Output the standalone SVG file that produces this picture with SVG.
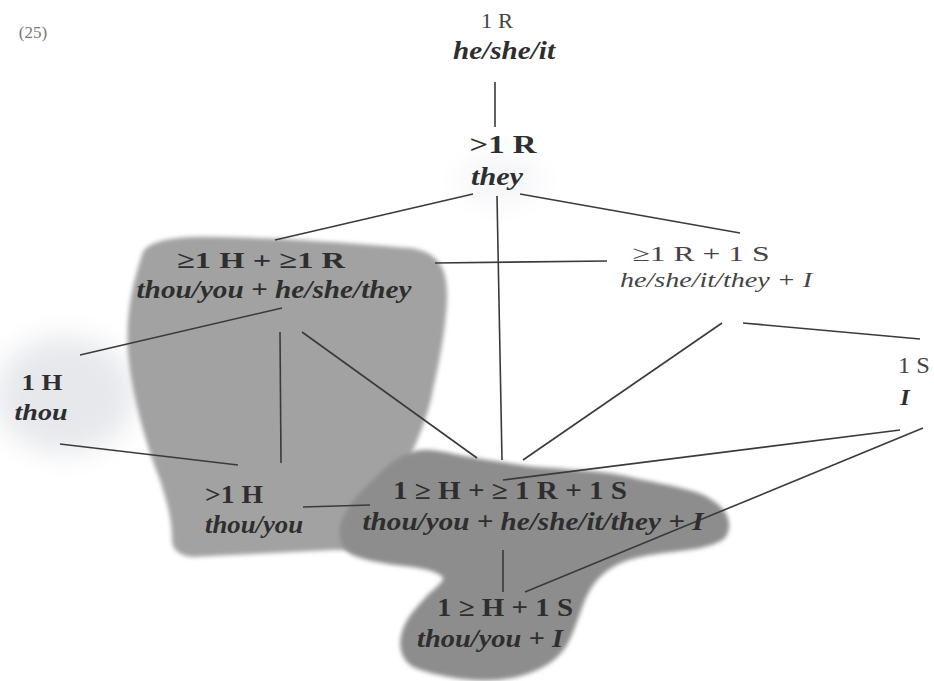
<svg xmlns="http://www.w3.org/2000/svg" width="934" height="681" viewBox="0 0 934 681">
<defs>
<filter id="soft" x="-20%" y="-20%" width="140%" height="140%"><feGaussianBlur stdDeviation="2"/></filter>
<filter id="halo" x="-50%" y="-50%" width="200%" height="200%"><feGaussianBlur stdDeviation="14"/></filter>
<style>
.t{font-family:"Liberation Serif","Times New Roman",serif;fill:#2e2e2e;text-anchor:middle}
.b{font-weight:bold}
.i{font-style:italic;font-weight:bold}
.n{font-weight:normal;fill:#444}
.c line{stroke:#3a3a3a;stroke-width:1.6}
</style>
</defs>
<rect width="934" height="681" fill="#ffffff"/>
<!-- backgrounds -->
<ellipse cx="65" cy="395" rx="70" ry="58" fill="#e6e8ec" filter="url(#halo)"/>
<ellipse cx="500" cy="180" rx="40" ry="22" fill="#f3f4f7" filter="url(#halo)"/>
<path id="blobLeft" d="M143,252 C152,238 185,236 220,237 C290,238 360,244 410,248 C440,252 448,270 447,300 C445,340 436,375 432,395 C424,430 412,450 405,470 L400,548 C380,552 360,550 333,550 L193,557 C178,556 172,548 172,540 C172,520 168,505 160,480 C150,455 132,400 128,353 C126,320 130,290 143,252 Z" fill="#a2a2a2" filter="url(#soft)"/>
<path id="blobBottom" d="M430,450 C450,452 460,456 470,457 C500,462 520,465 537,467 C580,470 610,472 630,477 C670,486 700,490 712,500 C728,510 734,525 725,538 C712,548 690,550 663,553 C640,556 625,560 613,567 C595,578 590,590 585,600 C577,620 572,640 562,652 C547,670 520,678 497,680 C470,682 440,677 415,668 C400,660 398,645 402,632 C406,618 416,608 425,598 C432,590 445,582 443,577 C432,568 410,567 395,565 C375,562 355,558 348,552 C338,544 338,530 342,520 C350,500 365,488 378,475 C392,461 410,448 430,450 Z" fill="#8d8d8d" filter="url(#soft)"/>
<!-- connectors -->
<g class="c" id="connectors">
<line x1="495" y1="82" x2="495" y2="127"/>
<line x1="473" y1="194" x2="275" y2="240"/>
<line x1="497" y1="196" x2="502" y2="460"/>
<line x1="520" y1="194" x2="740" y2="233"/>
<line x1="435" y1="263" x2="607" y2="261"/>
<line x1="282" y1="308" x2="80" y2="355"/>
<line x1="280" y1="332" x2="281" y2="463"/>
<line x1="302" y1="332" x2="477" y2="458"/>
<line x1="722" y1="323" x2="523" y2="460"/>
<line x1="743" y1="323" x2="920" y2="339"/>
<line x1="60" y1="444" x2="238" y2="465"/>
<line x1="303" y1="507" x2="370" y2="505"/>
<line x1="900" y1="430" x2="503" y2="480"/>
<line x1="923" y1="428" x2="525" y2="592"/>
<line x1="503" y1="550" x2="503" y2="592"/>
</g>
<!-- label -->
<text x="33" y="38" style="font-family:'Liberation Serif',serif;font-size:17px;fill:#777;text-anchor:middle">(25)</text>
<!-- nodes -->
<g id="n1R">
<text class="t n" x="497" y="28" font-size="21" textLength="32" lengthAdjust="spacingAndGlyphs">1 R</text>
<text class="t i" x="504" y="59" font-size="26" textLength="102" lengthAdjust="spacingAndGlyphs">he/she/it</text>
</g>
<g id="nGt1R">
<text class="t b" x="503" y="153" font-size="25" textLength="67" lengthAdjust="spacingAndGlyphs">&gt;1 R</text>
<text class="t i" x="497" y="185" font-size="26" textLength="52" lengthAdjust="spacingAndGlyphs">they</text>
</g>
<g id="nHR">
<text class="t b" x="261" y="268" font-size="24" textLength="168" lengthAdjust="spacingAndGlyphs">≥1 H + ≥1 R</text>
<text class="t i" x="274" y="298" font-size="25" textLength="275" lengthAdjust="spacingAndGlyphs">thou/you + he/she/they</text>
</g>
<g id="nRS">
<text class="t n" x="701" y="261" font-size="22" textLength="137" lengthAdjust="spacingAndGlyphs">≥1 R + 1 S</text>
<text class="t i n" x="716" y="287" font-size="22" textLength="192" lengthAdjust="spacingAndGlyphs">he/she/it/they + I</text>
</g>
<g id="n1H">
<text class="t b" x="42" y="390" font-size="24" textLength="41" lengthAdjust="spacingAndGlyphs">1 H</text>
<text class="t i" x="41" y="420" font-size="24" textLength="53" lengthAdjust="spacingAndGlyphs">thou</text>
</g>
<g id="n1S">
<text class="t n" x="914" y="373" font-size="23" textLength="32" lengthAdjust="spacingAndGlyphs">1 S</text>
<text class="t i" x="905" y="405" font-size="24">I</text>
</g>
<g id="nGt1H">
<text class="t b" x="234" y="503" font-size="25" textLength="58" lengthAdjust="spacingAndGlyphs">&gt;1 H</text>
<text class="t i" x="254" y="533" font-size="25" textLength="98" lengthAdjust="spacingAndGlyphs">thou/you</text>
</g>
<g id="nHRS">
<text class="t b" x="510" y="499" font-size="25" textLength="234" lengthAdjust="spacingAndGlyphs">1 ≥ H + ≥ 1 R + 1 S</text>
<text class="t i" x="533" y="530" font-size="25" textLength="341" lengthAdjust="spacingAndGlyphs">thou/you + he/she/it/they + I</text>
</g>
<g id="nHS">
<text class="t b" x="505" y="616" font-size="25" textLength="136" lengthAdjust="spacingAndGlyphs">1 ≥ H + 1 S</text>
<text class="t i" x="490" y="647" font-size="25" textLength="146" lengthAdjust="spacingAndGlyphs">thou/you + I</text>
</g>
</svg>
